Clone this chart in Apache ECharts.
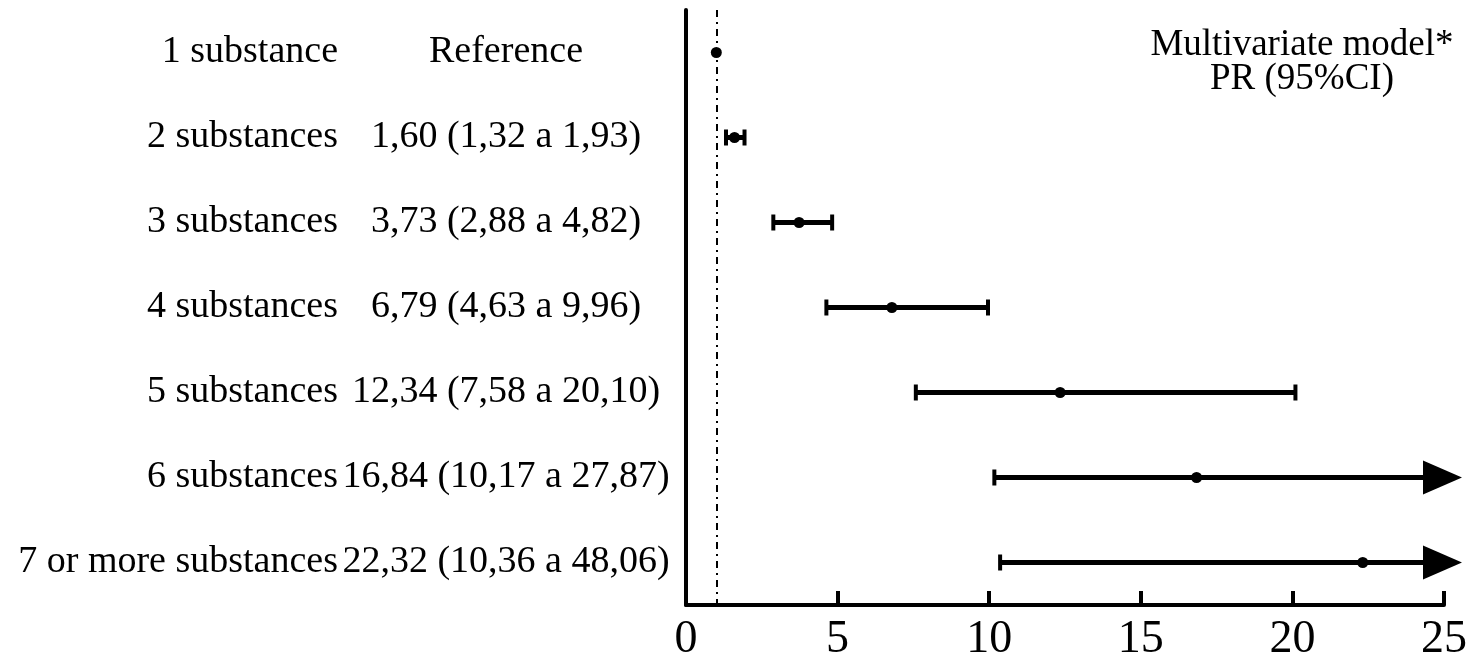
<!DOCTYPE html>
<html lang="en">
  <head>
    <meta charset="UTF-8" />
    <title>Forest plot - substances</title>
    <script src="https://cdn.jsdelivr.net/npm/echarts@6/dist/echarts.min.js"></script>
    <style>
      body {
        margin: 0;
        overflow: hidden;
        background: #fff;
      }
      #main {
        width: 1475px;
        height: 666px;
      }
    </style>
  </head>
  <body>
    <div id="main"></div>
    <script type="text/javascript">
      // rows, top to bottom
      const groups = [
        "1 substance",
        "2 substances",
        "3 substances",
        "4 substances",
        "5 substances",
        "6 substances",
        "7 or more substances",
      ]
      const prLabels = [
        "Reference",
        "1,60 (1,32 a 1,93)",
        "3,73 (2,88 a 4,82)",
        "6,79 (4,63 a 9,96)",
        "12,34 (7,58 a 20,10)",
        "16,84 (10,17 a 27,87)",
        "22,32 (10,36 a 48,06)",
      ]
      const pr = [1, 1.6, 3.73, 6.79, 12.34, 16.84, 22.32]
      const lower = [null, 1.32, 2.88, 4.63, 7.58, 10.17, 10.36]
      const upper = [null, 1.93, 4.82, 9.96, 20.1, 27.87, 48.06]
      const xTicks = [0, 5, 10, 15, 20, 25]

      const xMax = 25
      const serif = "Liberation Serif"

      var chart = echarts.init(document.getElementById("main"))

      // CI bars: [row, lower, upper]
      const ciData = []
      groups.forEach((g, i) => {
        if (lower[i] !== null) ciData.push([i, lower[i], upper[i]])
      })

      function renderCI(params, api) {
        const row = api.value(0)
        const lo = api.value(1)
        const hi = api.value(2)
        const pLo = api.coord([lo, row])
        const clipped = hi > xMax
        const pHi = api.coord([clipped ? xMax : hi, row])
        const y = pLo[1]
        const children = []
        const black = "#000"
        if (clipped) {
          // upper limit off the scale: arrow past the axis end
          const tipX = pHi[0] + 18
          const baseX = pHi[0] - 21
          children.push({
            type: "line",
            shape: { x1: pLo[0], y1: y, x2: baseX + 2, y2: y },
            style: { stroke: black, lineWidth: 5 },
          })
          children.push({
            type: "polygon",
            shape: {
              points: [
                [baseX, y - 17],
                [tipX, y],
                [baseX, y + 17],
              ],
            },
            style: { fill: black },
          })
        } else {
          children.push({
            type: "line",
            shape: { x1: pLo[0], y1: y, x2: pHi[0], y2: y },
            style: { stroke: black, lineWidth: 5 },
          })
          children.push({
            type: "line",
            shape: { x1: pHi[0], y1: y - 8, x2: pHi[0], y2: y + 8 },
            style: { stroke: black, lineWidth: 4 },
          })
        }
        children.push({
          type: "line",
          shape: { x1: pLo[0], y1: y - 8, x2: pLo[0], y2: y + 8 },
          style: { stroke: black, lineWidth: 4 },
        })
        return { type: "group", children: children }
      }

      const option = {
        animation: false,
        backgroundColor: "#fff",
        grid: {
          left: 686,
          right: 31,
          top: 10,
          bottom: 61,
          containLabel: false,
        },
        graphic: [
          {
            type: "text",
            x: 1302,
            y: 62,
            style: {
              text: "Multivariate model*\nPR (95%CI)",
              align: "center",
              verticalAlign: "middle",
              fontFamily: serif,
              fontSize: 37,
              lineHeight: 34,
              fill: "#000",
            },
          },
        ],
        xAxis: {
          type: "value",
          min: 0,
          max: xMax,
          interval: 5,
          axisLine: { show: true, lineStyle: { color: "#000", width: 4 } },
          axisTick: {
            show: true,
            inside: true,
            length: 14,
            lineStyle: { color: "#000", width: 4 },
          },
          axisLabel: {
            color: "#000",
            fontFamily: serif,
            fontSize: 46,
            margin: 12,
            formatter: v => (xTicks.includes(v) ? String(v) : ""),
          },
          splitLine: { show: false },
        },
        yAxis: [
          {
            type: "category",
            data: groups,
            inverse: true,
            axisLine: { show: true, lineStyle: { color: "#000", width: 4 } },
            axisTick: { show: false },
            axisLabel: {
              color: "#000",
              fontFamily: serif,
              fontSize: 38,
              margin: 348,
              align: "right",
            },
          },
          {
            type: "category",
            data: prLabels,
            inverse: true,
            position: "left",
            axisLine: { show: false },
            axisTick: { show: false },
            axisLabel: {
              color: "#000",
              fontFamily: serif,
              fontSize: 38,
              margin: 180,
              align: "center",
            },
          },
        ],
        series: [
          {
            type: "custom",
            renderItem: renderCI,
            data: ciData,
            encode: { x: [1, 2], y: 0 },
            z: 3,
          },
          {
            type: "scatter",
            data: pr.map((v, i) => [v, i]),
            symbol: "circle",
            symbolSize: 11,
            itemStyle: { color: "#000", opacity: 1 },
            z: 4,
            markLine: {
              silent: true,
              symbol: "none",
              label: { show: false },
              lineStyle: { color: "#000", width: 2, type: [7, 5, 2, 5] },
              data: [{ xAxis: 1 }],
            },
          },
        ],
      }

      chart.setOption(option)
    </script>
  </body>
</html>
